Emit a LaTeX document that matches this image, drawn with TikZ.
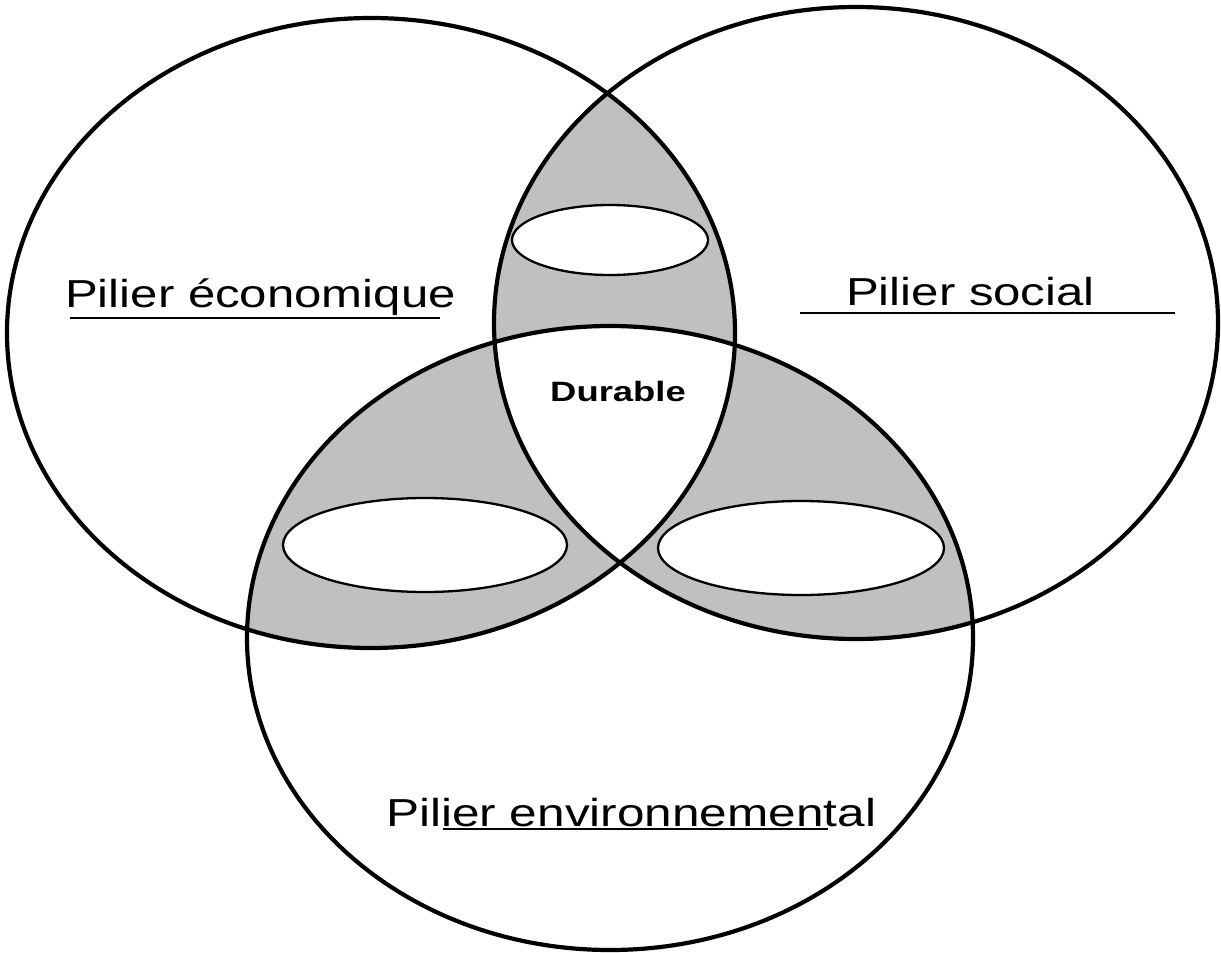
\documentclass[tikz,border=0pt]{standalone}
\usepackage{fontspec}
\setmainfont{Liberation Sans}
\definecolor{venngrey}{HTML}{C0C0C0}
\begin{document}
\begin{tikzpicture}[x=1pt,y=-1pt,
  bigring/.style={line width=4.2pt},
  smallring/.style={line width=2.3pt,fill=white},
  uline/.style={line width=1.6pt},
  lbl/.style={inner sep=0pt,font=\fontsize{39}{46}\selectfont},
  durlbl/.style={inner sep=0pt,font=\fontsize{28}{33}\selectfont\bfseries}]
\useasboundingbox[fill=white] (0,0) rectangle (1221,953);
\def\ecoA{(371,333) ellipse [x radius=364, y radius=315]}
\def\socB{(856,323) ellipse [x radius=362, y radius=316]}
\def\envC{(610,638) ellipse [x radius=363, y radius=312]}
% pairwise intersections in grey
\begin{scope}\clip \ecoA; \fill[venngrey] \socB;\end{scope}
\begin{scope}\clip \ecoA; \fill[venngrey] \envC;\end{scope}
\begin{scope}\clip \socB; \fill[venngrey] \envC;\end{scope}
% triple intersection white
\begin{scope}\clip \ecoA; \clip \socB; \fill[white] \envC;\end{scope}
% small white ellipses
\draw[smallring] (610,240) ellipse [x radius=98, y radius=35];
\draw[smallring] (425,545) ellipse [x radius=142, y radius=47];
\draw[smallring] (801,548) ellipse [x radius=143, y radius=47];
% outlines
\draw[bigring] \ecoA;
\draw[bigring] \socB;
\draw[bigring] \envC;
% labels
\node[lbl,anchor=base west] (eco) at (65,307) {\scalebox{1.26}[1]{Pilier économique}};
\node[lbl,anchor=base west] (soc) at (846,305) {\scalebox{1.26}[1]{Pilier social}};
\node[lbl,anchor=base west] (env) at (386,826) {\scalebox{1.27}[1]{Pilier environnemental}};
\node[durlbl] (dur) at (618,391) {\scalebox{1.3}[1]{Durable}};
% underlines
\draw[uline] (70,318) -- (440,318);
\draw[uline] (800,313) -- (1175,313);
\draw[uline] (443,829) -- (828,829);
\end{tikzpicture}
\end{document}
